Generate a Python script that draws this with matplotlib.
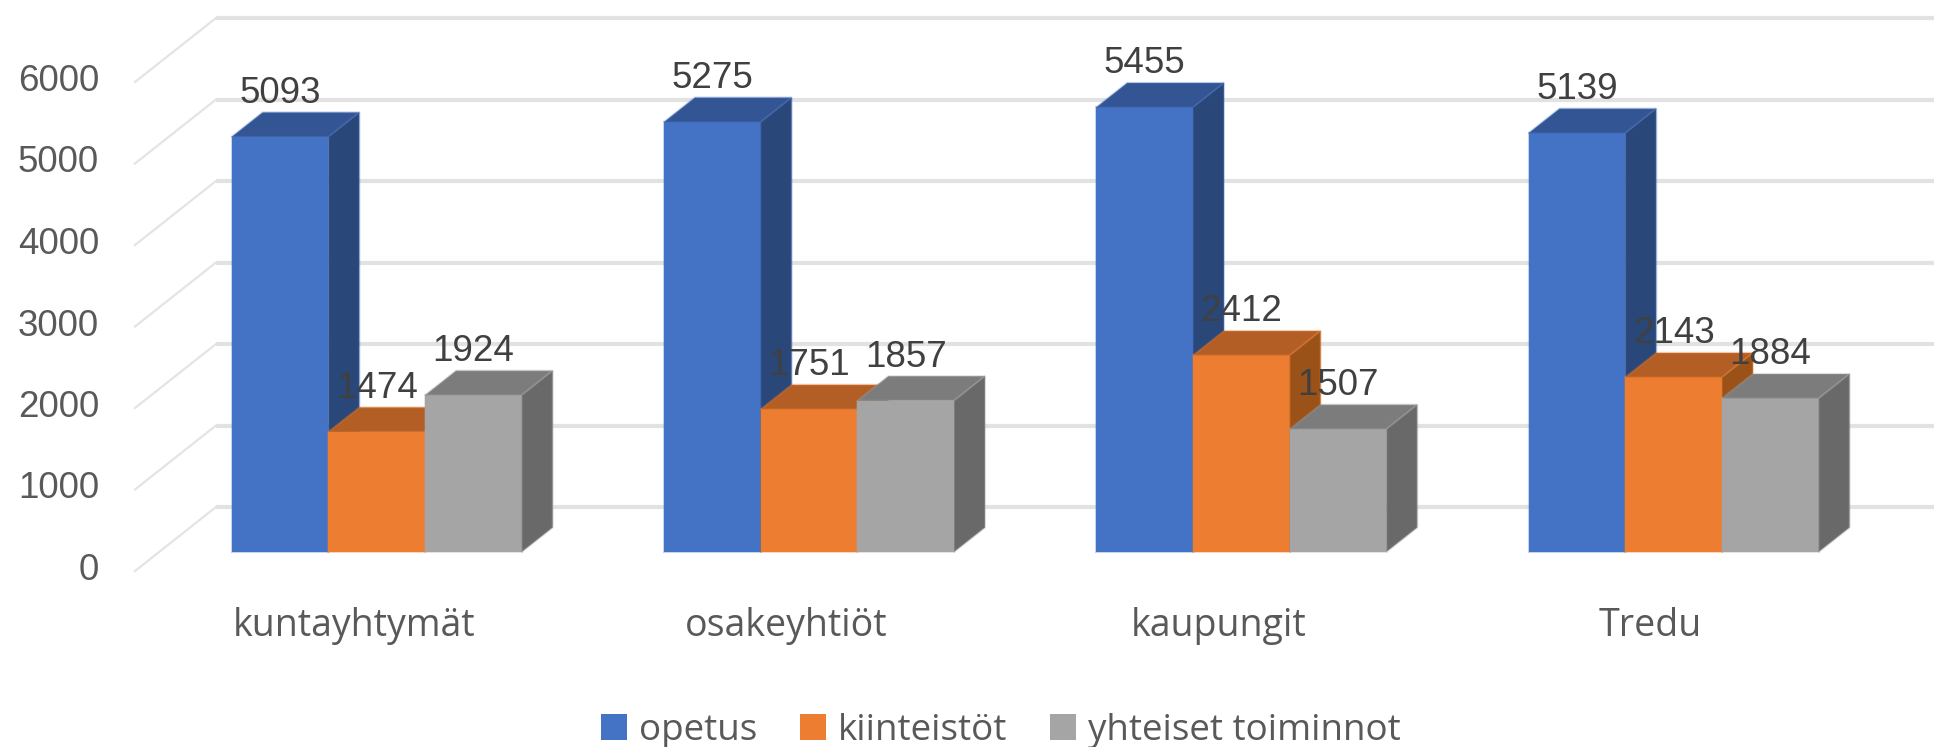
import matplotlib
matplotlib.use("Agg")
import matplotlib.pyplot as plt
from matplotlib.patches import Patch, Polygon

categories = ["kuntayhtymät", "osakeyhtiöt", "kaupungit", "Tredu"]
series_names = ["opetus", "kiinteistöt", "yhteiset toiminnot"]
opetus = [5093, 5275, 5455, 5139]
kiinteistot = [1474, 1751, 2412, 2143]
yhteiset = [1924, 1857, 1507, 1884]
y_ticks = [0, 1000, 2000, 3000, 4000, 5000, 6000]

front_cols = ["#4472C4", "#ED7D31", "#A5A5A5"]
top_cols = ["#345594", "#B25E25", "#7C7C7C"]
side_cols = ["#2A4779", "#9B5219", "#696969"]

W, H = 1934, 747
px_x = 432.3       # pixels per category
px_y = 0.0815      # pixels per value unit
x0_px = 376.7
y0_px = 552

fig = plt.figure(figsize=(W / 100, H / 100), dpi=100)
ax = fig.add_axes([0, 0, 1, 1])
ax.set_xlim(-x0_px / px_x, (W - x0_px) / px_x)
ax.set_ylim(-(H - y0_px) / px_y, y0_px / px_y)
ax.axis("off")

plt.rcParams["font.family"] = ["Liberation Sans", "DejaVu Sans"]
fs = 26.5
fs_text = 27

bar_w = 96.7 / px_x
depth_x = 31 / px_x
depth_y = 24.5 / px_y

# wall and floor grid
wall_left = (216 - x0_px) / px_x
wall_front = (135 - x0_px) / px_x
wall_back_off = 45 / px_y
wall_front_off = -19 / px_y
for t in y_ticks:
    ax.plot([wall_left, ax.get_xlim()[1]], [t + wall_back_off, t + wall_back_off],
            color="#E2E2E2", lw=3, zorder=1, solid_capstyle="butt")
    ax.plot([wall_front, wall_left], [t + wall_front_off, t + wall_back_off],
            color="#E4E4E4", lw=1.6, zorder=1)
    ax.text((99 - x0_px) / px_x, t + wall_front_off + 0.5 / px_y, str(t), ha="right", va="center",
            fontsize=fs, color="#595959")

# bars, each group left to right so later ones cover the earlier sides
for s, vals in enumerate([opetus, kiinteistot, yhteiset]):
    xs = [i + (s - 1) * bar_w for i in range(len(categories))]
    z = 3 + s
    halo = matplotlib.colors.to_rgba(front_cols[s], 0.3)
    ax.bar(xs, vals, width=bar_w, color=front_cols[s], zorder=z, edgecolor=halo, linewidth=1.5)
    for x, v in zip(xs, vals):
        l = x - bar_w / 2
        r = x + bar_w / 2
        ax.add_patch(Polygon([(l, v), (r, v), (r + depth_x, v + depth_y), (l + depth_x, v + depth_y)],
                             closed=True, facecolor=top_cols[s], edgecolor=halo, lw=1.5, zorder=z))
        ax.add_patch(Polygon([(r, 0), (r, v), (r + depth_x, v + depth_y), (r + depth_x, depth_y)],
                             closed=True, facecolor=side_cols[s], edgecolor=halo, lw=1.5, zorder=z))
        ax.text(x, v + 43.5 / px_y, str(v), ha="center", va="center", fontsize=fs,
                color="#404040", zorder=10)

for i, c in enumerate(categories):
    ax.text(i - 0.053, -74 / px_y, c, ha="center", va="center", fontsize=fs_text, color="#595959",
            family=["Open Sans", "DejaVu Sans"])

handles = [Patch(facecolor=front_cols[k], edgecolor="none", label=series_names[k]) for k in range(3)]
leg = ax.legend(handles=handles, ncol=3, loc="center", frameon=False,
                prop={"family": ["Open Sans", "DejaVu Sans"], "size": 26.5},
                bbox_to_anchor=(1001 / W, 1 - 731 / H), bbox_transform=fig.transFigure,
                handlelength=0.7, handleheight=0.7, handletextpad=0.32, columnspacing=1.17,
                labelcolor="#595959", borderpad=0, borderaxespad=0)

fig.savefig("out.png", dpi=100, facecolor="white")
